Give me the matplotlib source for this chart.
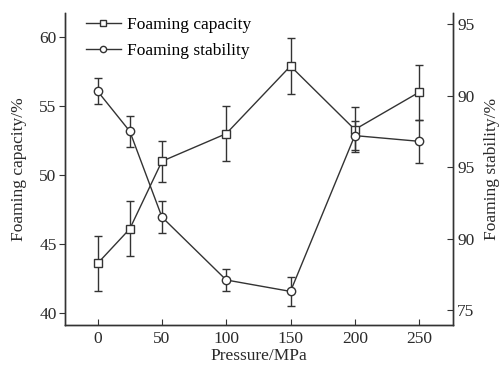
import matplotlib
matplotlib.use("Agg")
import matplotlib.pyplot as plt
from matplotlib.lines import Line2D

pressure = [0, 25, 50, 100, 150, 200, 250]
capacity = [43.6, 46.1, 51.0, 53.0, 57.9, 53.3, 56.0]
capacity_err = [2.0, 2.0, 1.5, 2.0, 2.0, 1.6, 2.0]
stability = [90.3, 87.5, 81.5, 77.1, 76.3, 87.2, 86.8]
stability_err = [0.9, 1.1, 1.1, 0.8, 1.0, 1.0, 1.5]
left_ticks = [40, 45, 50, 55, 60]
right_ticks = [75, 80, 85, 90, 95]
right_ticklabels = ["75", "90", "95", "90", "95"]
x_ticks = [0, 50, 100, 150, 200, 250]

plt.rcParams['font.family'] = ['Liberation Serif', 'DejaVu Serif']
col = '#333333'
tcol = '#2a2a2a'
fs = 12.5

fig = plt.figure(figsize=(5.02, 3.74), dpi=100)
ax = fig.add_axes([0.1295, 0.131, 0.7729, 0.834])
ax2 = ax.twinx()

ax.errorbar(pressure, capacity, yerr=capacity_err, color=col, lw=1.0,
            marker='s', ms=6, mfc='white', mec=col, mew=1.0,
            capsize=3, elinewidth=1.0, capthick=1.0)
ax2.errorbar(pressure, stability, yerr=stability_err, color=col, lw=1.0,
             marker='o', ms=6, mfc='white', mec=col, mew=1.0,
             capsize=3, elinewidth=1.0, capthick=1.0)

ax.set_xlim(-25.4, 276.4)
ax.set_ylim(39.13, 61.74)
ax2.set_ylim(73.95, 95.77)
ax.set_xticks(x_ticks)
ax.set_yticks(left_ticks)
ax2.set_yticks(right_ticks)
ax2.set_yticklabels(right_ticklabels)

for a in (ax, ax2):
    for s in a.spines.values():
        s.set_color(col)
        s.set_linewidth(1.0)
ax.spines['top'].set_visible(False)
ax2.spines['top'].set_visible(False)

ax.tick_params(axis='x', direction='in', length=4, colors=col, labelsize=fs, labelcolor=tcol, pad=4)
ax.tick_params(axis='y', direction='out', length=4, colors=col, labelsize=fs, labelcolor=tcol, pad=2)
ax2.tick_params(axis='y', direction='in', length=4, colors=col, labelsize=fs, labelcolor=tcol, pad=3)

ax.set_xlabel('Pressure/MPa', fontsize=fs, color=tcol, labelpad=1)
ax.set_ylabel('Foaming capacity/%', fontsize=fs, color=tcol, labelpad=9)
ax2.set_ylabel('Foaming stability/%', fontsize=fs, color=tcol, labelpad=7)

handles = [Line2D([], [], color=col, lw=1.0, marker='s', ms=4.5, mfc='white', mec=col),
           Line2D([], [], color=col, lw=1.0, marker='o', ms=4.5, mfc='white', mec=col)]
ax.legend(handles, ['Foaming capacity', 'Foaming stability'], loc='upper left',
          bbox_to_anchor=(0.045, 1.0), frameon=False, fontsize=fs, handlelength=2.0,
          handletextpad=0.35, labelspacing=0.6, borderaxespad=0.1, borderpad=0.1)

fig.savefig('out.png', dpi=100)
